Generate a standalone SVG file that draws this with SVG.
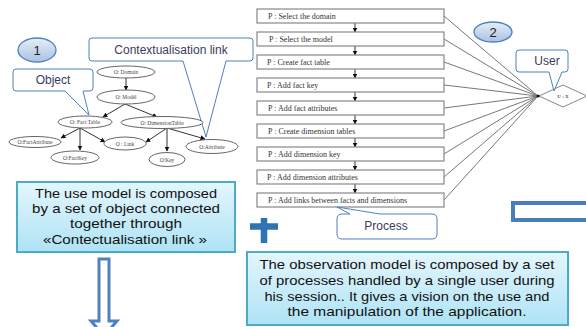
<svg xmlns="http://www.w3.org/2000/svg" width="586" height="327" viewBox="0 0 586 327">
<defs>
<linearGradient id="gCirc" x1="0" y1="0" x2="0" y2="1">
<stop offset="0" stop-color="#e6eef8"/><stop offset="1" stop-color="#a9c1e3"/>
</linearGradient>
<linearGradient id="gBox" x1="0" y1="0" x2="0" y2="1">
<stop offset="0" stop-color="#e4f6fc"/><stop offset="1" stop-color="#aee3f5"/>
</linearGradient>
<marker id="ah" viewBox="0 0 10 10" refX="9" refY="5" markerWidth="5" markerHeight="5" orient="auto" markerUnits="userSpaceOnUse">
<path d="M0,0 L10,5 L0,10 Z" fill="#111"/>
</marker>
</defs>
<style>
.ell{fill:#fff;stroke:#666;stroke-width:1}
.et{font-family:"Liberation Serif",serif;font-size:5.5px;fill:#444;text-anchor:middle}
.ga{stroke:#333;stroke-width:1;fill:none;marker-end:url(#ah)}
.pb{fill:#fff;stroke:#888;stroke-width:1.2}
.pt{font-family:"Liberation Serif",serif;font-size:8px;fill:#333}
.fan{stroke:#777;stroke-width:1;fill:none}
.co{fill:#fff;stroke:#4f81bd;stroke-width:1}
.ct{font-family:"Liberation Sans","Noto Sans",sans-serif;font-size:12px;fill:#3b3b5c;text-anchor:middle}
.circ{fill:url(#gCirc);stroke:#4f81bd;stroke-width:1.3}
.cn{font-family:"Liberation Sans",sans-serif;font-size:13px;fill:#222;text-anchor:middle}
.tb{fill:url(#gBox);stroke:#4bacc6;stroke-width:2}
.tt{font-family:"Liberation Sans","Noto Sans",sans-serif;font-size:13px;fill:#111;text-anchor:middle}
</style>

<g id="circle1"><ellipse class="circ" cx="37" cy="50" rx="19" ry="12"/><text class="cn" x="37" y="55">1</text></g>
<g id="circle2"><ellipse class="circ" cx="493" cy="32" rx="19" ry="10"/><text class="cn" x="493" y="37">2</text></g>

<g id="callout-context">
<path class="co" d="M92,38 H250 Q253,38 253,41 V58 Q253,61 250,61 H226 L206,137 L183,61 H92 Q89,61 89,58 V41 Q89,38 92,38 Z"/>
<text class="ct" x="171" y="54">Contextualisation link</text>
</g>
<g id="callout-object">
<path class="co" d="M16,69 H90 Q93,69 93,72 V88 Q93,91 90,91 H83 L89,115 L65,91 H16 Q13,91 13,88 V72 Q13,69 16,69 Z"/>
<text class="ct" x="53" y="84">Object</text>
</g>

<g id="graph-connectors">
<line class="ga" x1="126" y1="78" x2="126" y2="90"/>
<line class="ga" x1="125" y1="104" x2="103" y2="117"/>
<line class="ga" x1="125" y1="104" x2="157" y2="117"/>
<line class="ga" x1="80" y1="128" x2="61" y2="138"/>
<line class="ga" x1="80" y1="128" x2="80" y2="150"/>
<line class="ga" x1="80" y1="128" x2="105" y2="142"/>
<line class="ga" x1="167" y1="128" x2="146" y2="142"/>
<line class="ga" x1="167" y1="128" x2="167" y2="151"/>
<line class="ga" x1="167" y1="128" x2="205" y2="139"/>
</g>
<g id="o-domain"><ellipse class="ell" cx="126" cy="72" rx="29" ry="6"/><text class="et" x="126" y="74">O: Domain</text></g>
<g id="o-model"><ellipse class="ell" cx="126" cy="97" rx="29" ry="7"/><text class="et" x="126" y="99">O: Modèl</text></g>
<g id="o-facttable"><ellipse class="ell" cx="85" cy="122" rx="27" ry="6"/><text class="et" x="85" y="124">O: Fact Table</text></g>
<g id="o-dimtable"><ellipse class="ell" cx="162" cy="122.5" rx="41" ry="6"/><text class="et" x="162" y="124.5">O: DimensionTable</text></g>
<g id="o-factattr"><ellipse class="ell" cx="35" cy="142" rx="26" ry="5.5"/><text class="et" x="35" y="144">O:FactAttribute</text></g>
<g id="o-link"><ellipse class="ell" cx="125" cy="143.5" rx="21" ry="6.5"/><text class="et" x="125" y="145.5">O : Link</text></g>
<g id="o-attribute"><ellipse class="ell" cx="212" cy="146.5" rx="26" ry="7"/><text class="et" x="212" y="148.5">O:Attribute</text></g>
<g id="o-factkey"><ellipse class="ell" cx="75" cy="157.5" rx="24" ry="6.5"/><text class="et" x="75" y="159.5">O:FactKey</text></g>
<g id="o-key"><ellipse class="ell" cx="167" cy="159.5" rx="18" ry="7"/><text class="et" x="167" y="161.5">O:Key</text></g>

<g id="process-connectors">
<path class="fan" d="M444,16 L538,96 M444,39 L538,96 M444,62 L538,96 M444,85 L538,96 M444,108 L538,96 M444,131 L538,96 M444,154 L538,96 M444,177 L538,96 M444,200 L538,96"/>
<line class="ga" x1="355" y1="23" x2="355" y2="32"/>
<line class="ga" x1="355" y1="46" x2="355" y2="55"/>
<line class="ga" x1="355" y1="69" x2="355" y2="78"/>
<line class="ga" x1="355" y1="92" x2="355" y2="101"/>
<line class="ga" x1="355" y1="115" x2="355" y2="124"/>
<line class="ga" x1="355" y1="138" x2="355" y2="147"/>
<line class="ga" x1="355" y1="161" x2="355" y2="170"/>
<line class="ga" x1="355" y1="184" x2="355" y2="193"/>
</g>
<g id="p1"><rect class="pb" x="257" y="9" width="187" height="14"/><text class="pt" x="268" y="19">P : Select the domain</text></g>
<g id="p2"><rect class="pb" x="257" y="32" width="187" height="14"/><text class="pt" x="269" y="42">P : Select the model</text></g>
<g id="p3"><rect class="pb" x="257" y="55" width="187" height="14"/><text class="pt" x="267" y="65">P : Create fact table</text></g>
<g id="p4"><rect class="pb" x="257" y="78" width="187" height="14"/><text class="pt" x="267" y="88">P : Add fact key</text></g>
<g id="p5"><rect class="pb" x="257" y="101" width="187" height="14"/><text class="pt" x="268" y="111">P : Add fact attributes</text></g>
<g id="p6"><rect class="pb" x="257" y="124" width="187" height="14"/><text class="pt" x="268" y="134">P : Create dimension tables</text></g>
<g id="p7"><rect class="pb" x="257" y="147" width="187" height="14"/><text class="pt" x="268" y="157">P : Add dimension key</text></g>
<g id="p8"><rect class="pb" x="257" y="170" width="187" height="14"/><text class="pt" x="267" y="180">P : Add dimension attributes</text></g>
<g id="p9"><rect class="pb" x="257" y="193" width="187" height="14"/><text class="pt" x="268" y="203">P : Add links between facts and dimensions</text></g>

<g id="user-node">
<polygon points="539,96 563,85 587,96 563,107" fill="#fff" stroke="#888" stroke-width="1"/>
<text x="563" y="98" font-family="Liberation Serif,serif" font-size="5px" font-weight="bold" fill="#555" text-anchor="middle">U : X</text>
<circle cx="538" cy="96" r="1.5" fill="#111"/>
</g>
<g id="callout-user">
<path class="co" d="M519,50 H565 Q568,50 568,53 V69 Q568,72 565,72 H562 L554,91 L549,72 H519 Q516,72 516,69 V53 Q516,50 519,50 Z"/>
<text class="ct" x="547" y="65">User</text>
</g>
<g id="callout-process">
<path class="co" d="M342,214 H350 L337,207 L380,214 H432 Q437,214 437,219 V234 Q437,239 432,239 H342 Q337,239 337,234 V219 Q337,214 342,214 Z"/>
<text class="ct" x="386" y="230">Process</text>
</g>

<g id="plus"><path d="M250,226.5 H278 M264,218 V243" stroke="#2e74b5" stroke-width="6.5" fill="none"/></g>
<g id="blue-rect"><rect x="513" y="203" width="80" height="17" fill="none" stroke="#4a7ebb" stroke-width="4"/></g>

<g id="use-model-box">
<rect class="tb" x="17" y="182" width="218" height="70"/>
<text class="tt" x="126" y="198" textLength="182" lengthAdjust="spacingAndGlyphs">The use model  is composed</text>
<text class="tt" x="126" y="213" textLength="188" lengthAdjust="spacingAndGlyphs">by a set of object connected</text>
<text class="tt" x="126" y="228" textLength="112" lengthAdjust="spacingAndGlyphs">together through</text>
<text class="tt" x="125" y="244" textLength="164" lengthAdjust="spacingAndGlyphs">«Contectualisation  link »</text>
</g>
<g id="observation-box">
<rect class="tb" x="247" y="252" width="321" height="73"/>
<text class="tt" x="407" y="269" textLength="295" lengthAdjust="spacingAndGlyphs">The observation model  is composed by a set</text>
<text class="tt" x="407" y="285" textLength="295" lengthAdjust="spacingAndGlyphs">of processes handled by a single user during</text>
<text class="tt" x="407" y="301" textLength="285" lengthAdjust="spacingAndGlyphs">his session..  It gives a vision on the use and</text>
<text class="tt" x="407" y="316" textLength="239" lengthAdjust="spacingAndGlyphs">the manipulation  of the application.</text>
</g>

<g id="down-arrow">
<path d="M99,259 H109 V321 H117 L104,336 L91,321 H99 Z" fill="#fff" stroke="#4f81bd" stroke-width="3"/>
</g>
</svg>
